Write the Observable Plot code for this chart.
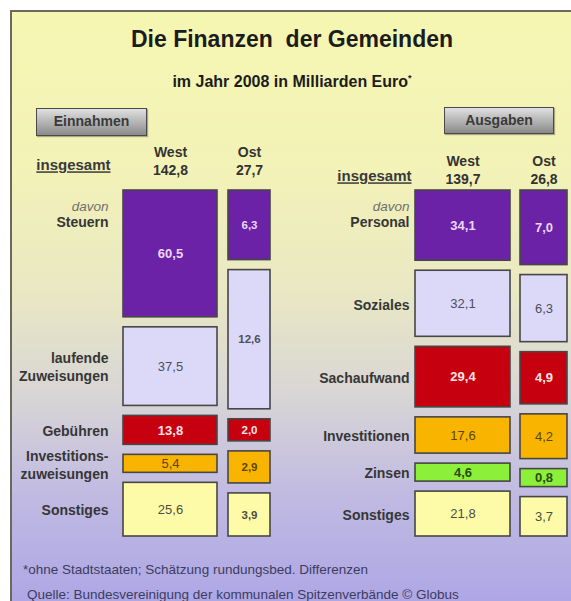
<!DOCTYPE html>
<html><head><meta charset="utf-8">
<script src="https://cdn.jsdelivr.net/npm/d3@7"></script>
<script src="https://cdn.jsdelivr.net/npm/@observablehq/plot@0.6"></script>
<style>
body{margin:0;background:#fff;font-family:"Liberation Sans",Arial,sans-serif;}
#page{position:relative;width:571px;height:601px;overflow:hidden;}
#frame{position:absolute;left:10px;top:10px;width:600px;height:620px;border-left:2px solid #6a6a5c;border-top:2px solid #6a6a5c;
background:linear-gradient(to bottom,#f6f6b2 0%,#f3f2b7 25%,#e9e8c3 45%,#d8d5d6 62%,#c0bae2 78%,#a9a1e6 100%);}
.title{position:absolute;left:0;width:584px;text-align:center;color:#1c1c1c;font-weight:bold;white-space:nowrap;}
.btn{position:absolute;box-sizing:border-box;border:1.5px solid #4a4a4a;background:linear-gradient(#e0e0e0,#8a8a8a);color:#3a3a3a;font-weight:bold;font-size:14px;text-align:center;box-shadow:1px 1px 1px rgba(0,0,0,.3);}
.foot{position:absolute;font-size:13.5px;line-height:13.5px;color:#3c3c5e;white-space:nowrap;}
#chart{position:absolute;left:0;top:140px;}
</style></head><body>
<div id="page">
<div id="frame"></div>
<div class="title" style="top:28px;font-size:23px;line-height:23px">Die Finanzen&nbsp; der Gemeinden</div>
<div class="title" style="top:70px;font-size:16px;line-height:16px">im Jahr 2008 in Milliarden Euro<span style="font-size:9px;vertical-align:6px">*</span></div>
<div class="btn" style="left:36px;top:108px;width:111px;height:28px;line-height:25px">Einnahmen</div>
<div class="btn" style="left:444px;top:107px;width:110px;height:27px;line-height:24px">Ausgaben</div>
<div id="chart"></div>
<div class="foot" style="left:23px;top:563px">*ohne Stadtstaaten; Schätzung rundungsbed. Differenzen</div>
<div class="foot" style="left:27px;top:588px">Quelle: Bundesvereinigung der kommunalen Spitzenverbände © Globus</div>
</div>
<script>
// ---- data (Mrd. Euro, 2008) ----
const regionen = ["West", "Ost"];
const einnahmenKategorien = ["Steuern", "laufende\nZuweisungen", "Gebühren", "Investitions-\nzuweisungen", "Sonstiges"];
const einnahmenWest = [60.5, 37.5, 13.8, 5.4, 25.6];
const einnahmenOst = [6.3, 12.6, 2.0, 2.9, 3.9];
const einnahmenInsgesamt = [142.8, 27.7];
const ausgabenKategorien = ["Personal", "Soziales", "Sachaufwand", "Investitionen", "Zinsen", "Sonstiges"];
const ausgabenWest = [34.1, 32.1, 29.4, 17.6, 4.6, 21.8];
const ausgabenOst = [7.0, 6.3, 4.9, 4.2, 0.8, 3.7];
const ausgabenInsgesamt = [139.7, 26.8];

// ---- styles / layout ----
const fillByRow = {
  Einnahmen: ["#6b22a6", "#dbd9f7", "#c6000f", "#f9b400", "#fdfba8"],
  Ausgaben: ["#6b22a6", "#dbd9f7", "#c6000f", "#f9b400", "#8cef3a", "#fdfba8"]
};
const inkByRow = {
  Einnahmen: ["#ead8f7", "#4e4e62", "#ffe4e4", "#5a4600", "#4e4e40"],
  Ausgaben: ["#ead8f7", "#4e4e62", "#ffe4e4", "#5a4600", "#2c4a10", "#4e4e40"]
};
const boldRows = {Einnahmen: [0, 2], Ausgaben: [0, 2, 4]};
const layout = {
  Einnahmen: {labelX: 108, cols: {West: [123, 217], Ost: [228, 270]}, insDy: -25, headDy: -30},
  Ausgaben: {labelX: 409, cols: {West: [415, 510], Ost: [520, 567]}, insDy: -14, headDy: -21}
};
const gapFrac = 10 / 346;   // gap between blocks
const minFrac = 18 / 346;   // smallest block height (so the label fits)

const panels = [
  {name: "Einnahmen", kategorien: einnahmenKategorien, West: einnahmenWest, Ost: einnahmenOst, insgesamt: einnahmenInsgesamt},
  {name: "Ausgaben", kategorien: ausgabenKategorien, West: ausgabenWest, Ost: ausgabenOst, insgesamt: ausgabenInsgesamt}
];
const fmt = v => v.toFixed(1).replace(".", ",");

const blocks = [];
for (const p of panels) for (const r of regionen) {
  const vals = p[r], sum = d3.sum(vals), n = vals.length;
  const avail = 1 - (n - 1) * gapFrac;
  let h = vals.map(v => v / sum * avail);
  const small = h.map(x => x < minFrac);
  const fixed = d3.sum(small, s => s ? minFrac : 0);
  const rest = d3.sum(vals.filter((v, i) => !small[i]));
  h = vals.map((v, i) => small[i] ? minFrac : v / rest * (avail - fixed));
  let y = 0;
  vals.forEach((v, i) => {
    const y1 = y, y2 = y + h[i];
    y = y2 + gapFrac;
    const [x1, x2] = layout[p.name].cols[r];
    blocks.push({panel: p.name, region: r, row: i, kategorie: p.kategorien[i], value: v, y1, y2, x1, x2});
  });
}
const isBold = d => d.region === "Ost" && d.panel === "Einnahmen" || boldRows[d.panel].includes(d.row);

const marks = [
  Plot.rect(blocks, {x1: "x1", x2: "x2", y1: "y1", y2: "y2", fill: d => fillByRow[d.panel][d.row], stroke: "#464646", strokeWidth: 1.6}),
  Plot.text(blocks.filter(isBold), {x: d => (d.x1 + d.x2) / 2, y: d => (d.y1 + d.y2) / 2, text: d => fmt(d.value),
    fill: d => inkByRow[d.panel][d.row], fontWeight: "bold", fontSize: d => d.panel === "Einnahmen" && d.region === "Ost" ? 11.5 : 13}),
  Plot.text(blocks.filter(d => !isBold(d)), {x: d => (d.x1 + d.x2) / 2, y: d => (d.y1 + d.y2) / 2, text: d => fmt(d.value),
    fill: d => inkByRow[d.panel][d.row], fontSize: 13}),
  // row labels
  Plot.text(blocks.filter(d => d.region === "West" && d.row > 0), {x: d => layout[d.panel].labelX, y: d => (d.y1 + d.y2) / 2,
    text: "kategorie", textAnchor: "end", fontWeight: "bold", fontSize: 14, fill: "#363636", lineHeight: 1.28}),
  Plot.text(blocks.filter(d => d.region === "West" && d.row === 0), {x: d => layout[d.panel].labelX, y: "y1", dy: 32,
    text: "kategorie", textAnchor: "end", fontWeight: "bold", fontSize: 14, fill: "#363636"}),
  Plot.text(blocks.filter(d => d.region === "West" && d.row === 0), {x: d => layout[d.panel].labelX, y: "y1", dy: 16,
    text: () => "davon", textAnchor: "end", fontStyle: "italic", fontSize: 13.5, fill: "#707070"})
];
for (const p of panels) {
  const L = layout[p.name];
  const top = blocks.filter(d => d.panel === p.name && d.row === 0);
  marks.push(Plot.text(top.filter(d => d.region === "West"), {x: () => L.labelX + 2, y: "y1", dy: L.insDy, text: () => "insgesamt",
    textAnchor: "end", fontWeight: "bold", fontSize: 15, fill: "#3a3a3a"}));
  marks.push(Plot.text(top, {x: d => (d.x1 + d.x2) / 2, y: "y1", dy: L.headDy,
    text: d => `${d.region}\n${fmt(p.insgesamt[regionen.indexOf(d.region)])}`,
    fontWeight: "bold", fontSize: 14, fill: "#333", lineHeight: 1.25}));
}

const chart = Plot.plot({
  width: 571, height: 408,
  marginTop: 50, marginBottom: 12, marginLeft: 0, marginRight: 0,
  x: {domain: [0, 571], axis: null},
  y: {domain: [0, 1], reverse: true, axis: null},
  color: {type: "identity"},
  style: {background: "transparent", overflow: "visible", fontFamily: "'Liberation Sans', Arial, sans-serif"},
  marks
});
document.getElementById("chart").appendChild(chart);
d3.select(chart).selectAll("text").filter(function () { return this.textContent === "insgesamt"; })
  .attr("text-decoration", "underline");
</script>
</body></html>
